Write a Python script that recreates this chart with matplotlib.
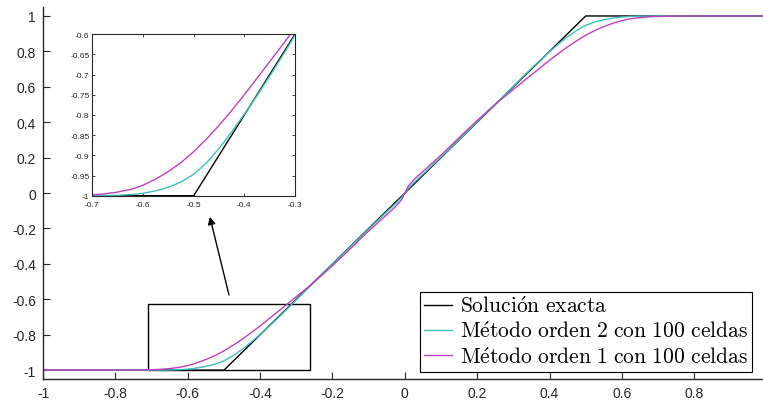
import matplotlib
matplotlib.use("Agg")
import matplotlib.pyplot as plt
from matplotlib.patches import Rectangle

plt.rcParams["font.family"] = ["Liberation Sans", "DejaVu Sans"]
plt.rcParams["axes.unicode_minus"] = False
plt.rcParams["mathtext.fontset"] = "cm"

GRAY = "#262626"
TEAL = "#40bfbf"
MAGENTA = "#bf40bf"

# exact solution (rarefaction) corners
x_exact = [-1.0, -0.5, 0.5, 0.99]
y_exact = [-1.0, -1.0, 1.0, 1.0]

# numerical solutions
x_num = [-1.0, -0.8, -0.72, -0.68, -0.65, -0.62, -0.60, -0.575, -0.55, -0.525,
         -0.50, -0.475, -0.45, -0.425, -0.40, -0.375, -0.35, -0.325, -0.30,
         -0.25, -0.20, -0.15, -0.10, -0.05, -0.025, -0.01, 0.0, 0.01, 0.025,
         0.05, 0.10, 0.15, 0.20, 0.25, 0.30, 0.325, 0.35, 0.375, 0.40, 0.425,
         0.45, 0.475, 0.50, 0.525, 0.55, 0.575, 0.60, 0.62, 0.65, 0.68, 0.72,
         0.8, 0.99]
y_order2 = [-1.0, -1.0, -1.0, -0.9995, -0.999, -0.997, -0.994, -0.988, -0.979,
            -0.966, -0.947, -0.919, -0.883, -0.842, -0.798, -0.752, -0.704,
            -0.654, -0.603, -0.502, -0.402, -0.302, -0.203, -0.106, -0.058,
            -0.026, 0.0, 0.026, 0.058, 0.106, 0.203, 0.302, 0.402, 0.502, 0.603,
            0.654, 0.704, 0.752, 0.798, 0.842, 0.883, 0.919, 0.947, 0.966, 0.979,
            0.988, 0.994, 0.997, 0.999, 0.9995, 1.0, 1.0, 1.0]
y_order1 = [-1.0, -1.0, -0.9985, -0.996, -0.991, -0.983, -0.974, -0.959, -0.940,
            -0.918, -0.891, -0.860, -0.826, -0.789, -0.750, -0.709, -0.668,
            -0.627, -0.585, -0.502, -0.41, -0.313, -0.214, -0.122, -0.075, -0.04,
            0.0, 0.04, 0.075, 0.122, 0.214, 0.313, 0.41, 0.502, 0.585, 0.627,
            0.668, 0.709, 0.750, 0.789, 0.826, 0.860, 0.891, 0.918, 0.940, 0.959,
            0.974, 0.983, 0.991, 0.996, 0.9985, 1.0, 1.0]

labels = [r"$\mathrm{Soluci\acute{o}n\ exacta}$",
          r"$\mathrm{M\acute{e}todo\ orden\ 2\ con\ 100\ celdas}$",
          r"$\mathrm{M\acute{e}todo\ orden\ 1\ con\ 100\ celdas}$"]

main_xticks = [-1, -0.8, -0.6, -0.4, -0.2, 0, 0.2, 0.4, 0.6, 0.8]
main_yticks = [-1, -0.8, -0.6, -0.4, -0.2, 0, 0.2, 0.4, 0.6, 0.8, 1]
inset_xticks = [-0.7, -0.6, -0.5, -0.4, -0.3]
inset_yticks = [-1, -0.95, -0.9, -0.85, -0.8, -0.75, -0.7, -0.65, -0.6]

# zoom box
box_x = (-0.71, -0.262)
box_y = (-1.0, -0.625)


def fmt(v):
    return f"{v:g}"


fig = plt.figure(figsize=(7.63, 4.06), dpi=100)
ax = fig.add_axes([0.0564, 0.064, 0.9436, 0.916])

ax.plot(x_exact, y_exact, color="black", lw=1.0, label=labels[0])
ax.plot(x_num, y_order2, color=TEAL, lw=1.0, label=labels[1])
ax.plot(x_num, y_order1, color=MAGENTA, lw=1.0, label=labels[2])

ax.set_xlim(-1, 0.99)
ax.set_ylim(-1.05, 1.05)
ax.set_xticks(main_xticks)
ax.set_xticklabels([fmt(v) for v in main_xticks])
ax.set_yticks(main_yticks)
ax.set_yticklabels([fmt(v) for v in main_yticks])
ax.spines[["top", "right"]].set_visible(False)
for s in ("left", "bottom"):
    ax.spines[s].set_color(GRAY)
    ax.spines[s].set_linewidth(1.0)
ax.tick_params(direction="in", length=5, width=0.8, labelsize=10,
               colors=GRAY, pad=5)

ax.add_patch(Rectangle((box_x[0], box_y[0]), box_x[1] - box_x[0],
                       box_y[1] - box_y[0], fill=False, ec="black", lw=1.0))
ax.annotate("", xy=(-0.539, -0.134), xytext=(-0.486, -0.575),
            arrowprops=dict(arrowstyle="-|>", color="black", lw=1.0,
                            mutation_scale=11, shrinkA=0, shrinkB=0))

leg = ax.legend(loc="lower right", bbox_to_anchor=(0.9856, 0.0813),
                bbox_transform=fig.transFigure, fontsize=15.5, frameon=True,
                fancybox=False, framealpha=1, edgecolor="black",
                handlelength=1.3, handletextpad=0.35, labelspacing=0.2,
                borderpad=0.2, borderaxespad=0)
leg.get_frame().set_linewidth(0.8)

ins = fig.add_axes([0.121, 0.5155, 0.2657, 0.398])
ins.plot(x_exact, y_exact, color="black", lw=1.0)
ins.plot(x_num, y_order2, color=TEAL, lw=1.0)
ins.plot(x_num, y_order1, color=MAGENTA, lw=1.0)
ins.set_xlim(-0.7, -0.3)
ins.set_ylim(-1, -0.6)
ins.set_xticks(inset_xticks)
ins.set_xticklabels([fmt(v) for v in inset_xticks])
ins.set_yticks(inset_yticks)
ins.set_yticklabels([fmt(v) for v in inset_yticks])
for s in ins.spines.values():
    s.set_color(GRAY)
    s.set_linewidth(0.8)
ins.tick_params(direction="in", length=2.5, width=0.6, labelsize=6,
                colors=GRAY, top=True, right=True)
ins.tick_params(axis="x", pad=4)
ins.tick_params(axis="y", pad=2)

fig.savefig("out.png", dpi=100)
